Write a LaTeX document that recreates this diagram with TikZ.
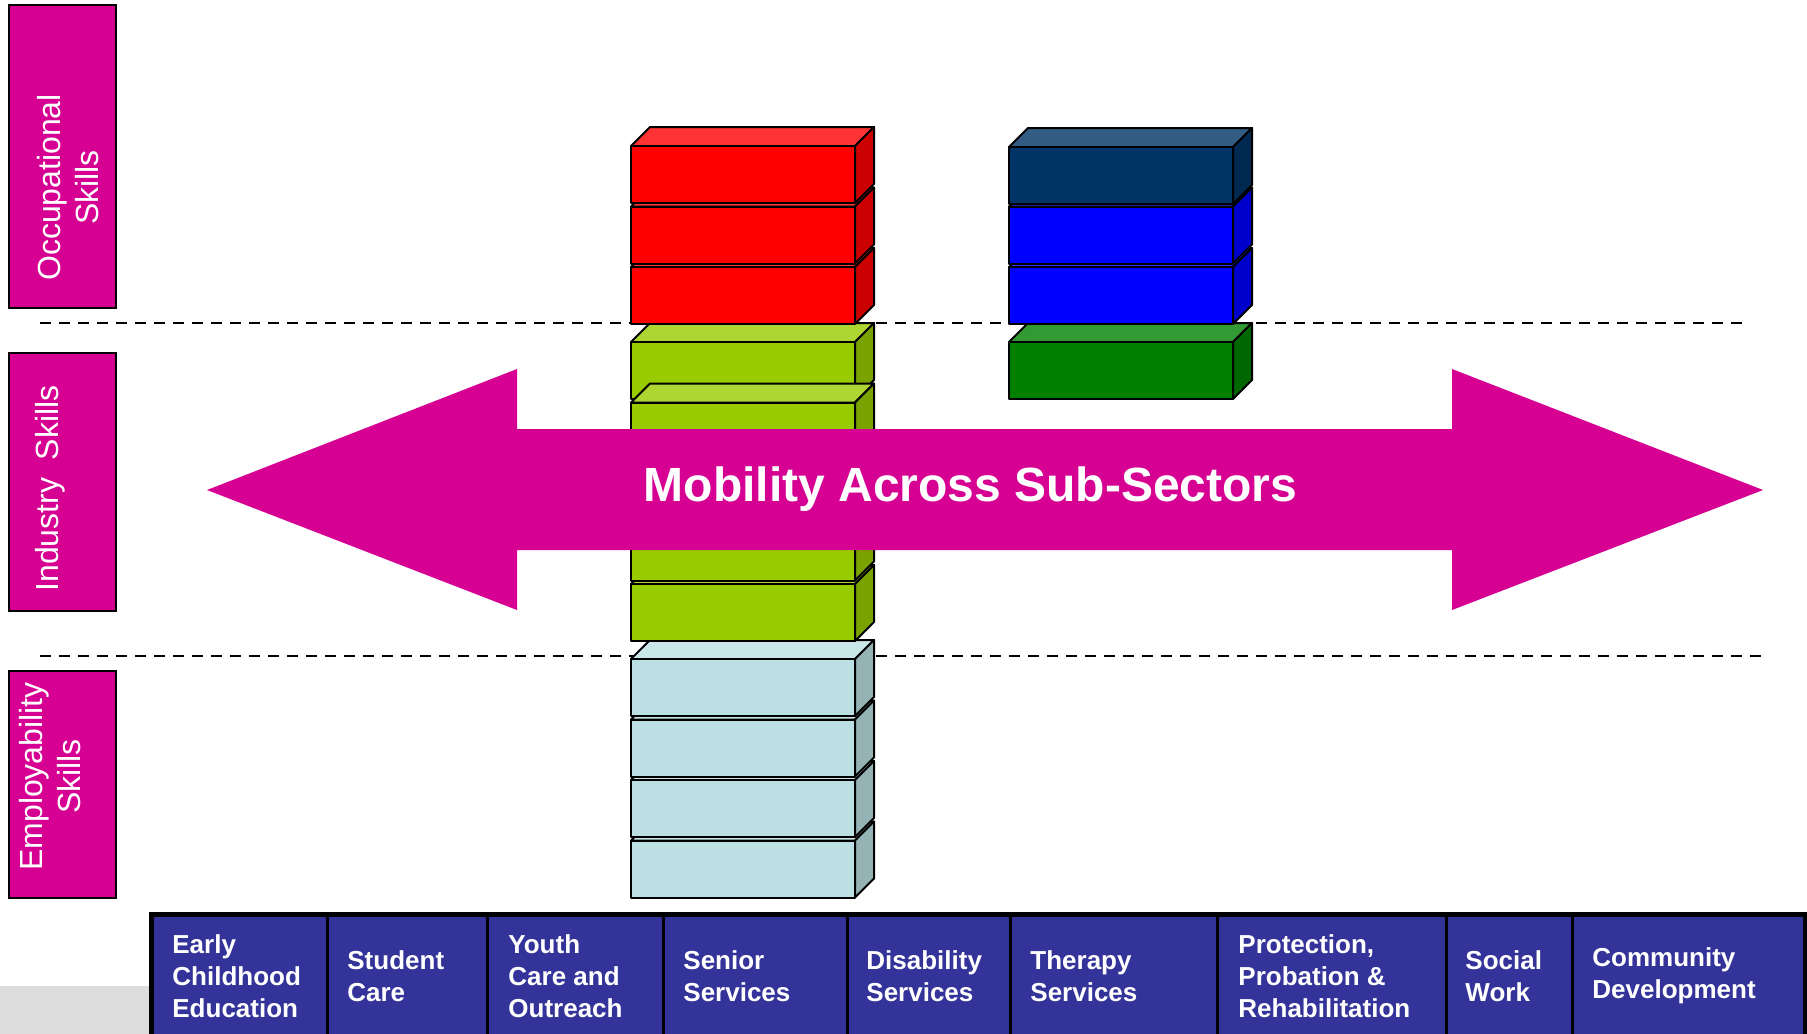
\documentclass[tikz,border=0pt]{standalone}
\usepackage{fontspec}
\setmainfont{Liberation Sans}
\definecolor{mag}{HTML}{D60093}
\definecolor{tblue}{HTML}{333399}
\definecolor{greyBg}{HTML}{DDDDDD}
\definecolor{redF}{HTML}{FF0000}\definecolor{redT}{HTML}{FF3333}\definecolor{redS}{HTML}{CC0000}
\definecolor{lgF}{HTML}{99CC00}\definecolor{lgT}{HTML}{ADD633}\definecolor{lgS}{HTML}{7AA300}
\definecolor{lbF}{HTML}{BBDFE2}\definecolor{lbT}{HTML}{C9E6E8}\definecolor{lbS}{HTML}{95B2B5}
\definecolor{nvF}{HTML}{003366}\definecolor{nvT}{HTML}{335C85}\definecolor{nvS}{HTML}{002952}
\definecolor{blF}{HTML}{0000FF}\definecolor{blT}{HTML}{3333FF}\definecolor{blS}{HTML}{0000CC}
\definecolor{gnF}{HTML}{008000}\definecolor{gnT}{HTML}{339933}\definecolor{gnS}{HTML}{006600}
% #1 = left x of front face, #2 = top y of front face, #3 = colour prefix
\newcommand\mycube[3]{%
  \filldraw[cubeline, fill=#3T] (#1,#2) -- ++(19,-19) -- ++(224,0) -- ++(-19,19) -- cycle;
  \filldraw[cubeline, fill=#3S] (#1+224,#2) -- ++(19,-19) -- ++(0,57) -- ++(-19,19) -- cycle;
  \filldraw[cubeline, fill=#3F] (#1,#2) rectangle ++(224,57);}
\begin{document}
\begin{tikzpicture}[x=0.5pt, y=-0.5pt,
  cubeline/.style={draw=black, line width=1pt, line join=round},
  labbox/.style={fill=mag, draw=black, line width=1pt},
  labtext/.style={text=white, font=\fontsize{16}{19}\selectfont, rotate=90, align=center, inner sep=0pt},
  sepline/.style={draw=black, line width=1pt, dash pattern=on 5.5pt off 4pt},
  celltext/.style={text=white, font=\bfseries\fontsize{13}{16}\selectfont, align=left, anchor=west, inner sep=0pt},
  divider/.style={draw=black, line width=1.5pt},
  bigarrow/.style={fill=mag}]
\useasboundingbox (0,0) rectangle (1807,1033);
\fill[white] (0,0) rectangle (1807,1033);

% grey strip bottom left
\fill[greyBg] (0,986) rectangle (200,1040);

% side labels
\path[labbox] (9,5) rectangle (116,308);
\path[labbox] (9,353) rectangle (116,611);
\path[labbox] (9,671) rectangle (116,898);
\node[labtext] (occ) at (68.3,187.5) {Occupational\\Skills};
\node[labtext] (ind) at (50.6,488.5) {Industry~~Skills};
\node[labtext] (emp) at (50.3,776.5) {Employability\\Skills};

% dashed separators
\coordinate (d1a) at (40,323); \coordinate (d1b) at (1748,323);
\coordinate (d2a) at (40,656); \coordinate (d2b) at (1763,656);
\draw[sepline] (d1a) -- (d1b);
\draw[sepline] (d2a) -- (d2b);

% left stack: light blue (bottom up)
\mycube{631}{840.5}{lb}
\mycube{631}{780}{lb}
\mycube{631}{719.5}{lb}
\mycube{631}{659}{lb}
% yellow-green
\mycube{631}{584}{lg}
\mycube{631}{523.5}{lg}
\mycube{631}{463}{lg}
\mycube{631}{342}{lg}
\mycube{631}{402.5}{lg}
% red
\mycube{631}{267}{red}
\mycube{631}{206.5}{red}
\mycube{631}{146}{red}

% right stack
\mycube{1009}{342}{gn}
\mycube{1009}{267}{bl}
\mycube{1009}{206.5}{bl}
\mycube{1009}{147}{nv}

% double arrow
\fill[bigarrow] (207,490) -- (517,369) -- (517,429) -- (1452,429) -- (1452,369)
  -- (1763,490) -- (1452,610) -- (1452,550) -- (517,550) -- (517,610) -- cycle;
\node[text=white, font=\bfseries\fontsize{24}{28}\selectfont, anchor=base, inner sep=0pt]
  (mob) at (970.5,501) {Mobility Across Sub-Sectors};

% bottom table
\fill[tblue] (151,914) rectangle (1807,1040);
\foreach \xx in {327,487,663,847,1010,1217,1446,1572}
  \draw[divider] (\xx,915) -- (\xx,1040);
\draw[black, line width=2.5pt] (151,1040) -- (151,914) -- (1805,914) -- (1805,1040);
\node[celltext] (c1) at (172,976) {Early\\Childhood\\Education};
\node[celltext] (c2) at (347,976) {Student\\Care};
\node[celltext] (c3) at (508,976) {Youth\\Care and\\Outreach};
\node[celltext] (c4) at (683,976) {Senior\\Services};
\node[celltext] (c5) at (866,976) {Disability\\Services};
\node[celltext] (c6) at (1030,976) {Therapy\\Services};
\node[celltext] (c7) at (1238,976) {Protection,\\Probation \&\\Rehabilitation};
\node[celltext] (c8) at (1465,976) {Social\\Work};
\node[celltext] (c9) at (1592,976) {Community\\Development};
\end{tikzpicture}
\end{document}
